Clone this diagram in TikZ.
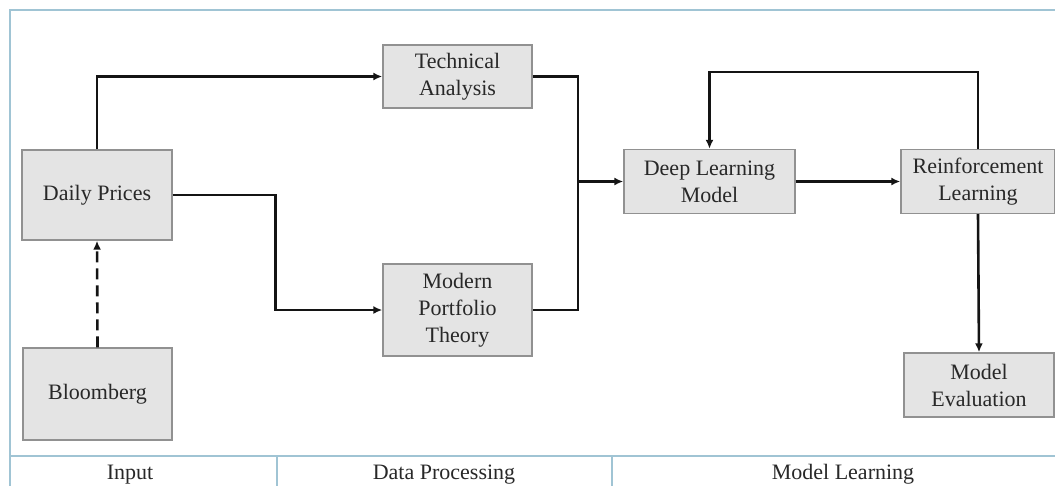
\documentclass[tikz,border=0pt]{standalone}
\usepackage{fontspec}
\setmainfont{Liberation Serif}
\usetikzlibrary{arrows.meta}
\definecolor{framec}{RGB}{160,196,212}
\definecolor{boxfill}{RGB}{228,228,228}
\definecolor{boxline}{RGB}{145,145,145}
\definecolor{txt}{RGB}{40,40,40}
\definecolor{wire}{RGB}{20,20,20}
\begin{document}
\begin{tikzpicture}[x=1pt,y=-1pt,
  box/.style={draw=boxline, fill=boxfill, line width=1.4pt, text=txt,
    font=\fontsize{22}{27}\selectfont, align=center, inner sep=0pt},
  wirestyle/.style={draw=wire, line width=2.6pt},
  flow/.style={wirestyle, -{Latex[length=9pt,width=8pt]}},
  lane/.style={text=txt, font=\fontsize{22}{27}\selectfont, anchor=base},
]
\useasboundingbox (0,0) rectangle (1055,485);
\clip (0,0) rectangle (1055,485);

% outer frame and lane strip
\draw[framec, line width=2.8pt] (10,500) -- (10,10) -- (1070,10);
\draw[framec, line width=2.8pt] (10,456) -- (1070,456);
\draw[framec, line width=1.8pt] (277,456) -- (277,500);
\draw[framec, line width=1.8pt] (612,456) -- (612,500);

% lane titles
\node[lane] (l1) at (130,479) {Input};
\node[lane] (l2) at (444,479) {Data Processing};
\node[lane] (l3) at (843,479) {Model Learning};

% process boxes
\node[box, minimum width=150pt, minimum height=90pt] (dp) at (97,195) {Daily Prices};
\node[box, minimum width=149pt, minimum height=92pt] (bb) at (97.5,394) {Bloomberg};
\node[box, minimum width=149pt, minimum height=63pt] (ta) at (457.5,76.5) {Technical\\Analysis};
\node[box, minimum width=149pt, minimum height=92pt] (mpt) at (457.5,310) {Modern\\Portfolio\\Theory};
\node[box, minimum width=171pt, minimum height=64pt] (dlm) at (709.5,181.5) {Deep Learning\\Model};
\node[box, minimum width=154pt, minimum height=64pt] (rl) at (978,181.5) {Reinforcement\\Learning};
\node[box, minimum width=150pt, minimum height=64pt] (me) at (979,385) {Model\\Evaluation};

% connectors
\coordinate (bus) at (578,181.5);
\draw[flow] (dp.north) |- (ta.west);
\draw[flow] (dp.east) -- ++(103,0) |- (mpt.west);
\draw[wirestyle] (ta.east) -| (bus) |- (mpt.east);
\draw[flow] (bus) -- (dlm.west);
\draw[flow] (dlm.east) -- (rl.west);
\draw[flow] (rl.north) -- ++(0,-77) -| (dlm.north);
\draw[flow] (rl.south) -- (me.north);
\draw[flow, dash pattern=on 11pt off 6pt] (bb.north) -- (dp.south);
\end{tikzpicture}
\end{document}
